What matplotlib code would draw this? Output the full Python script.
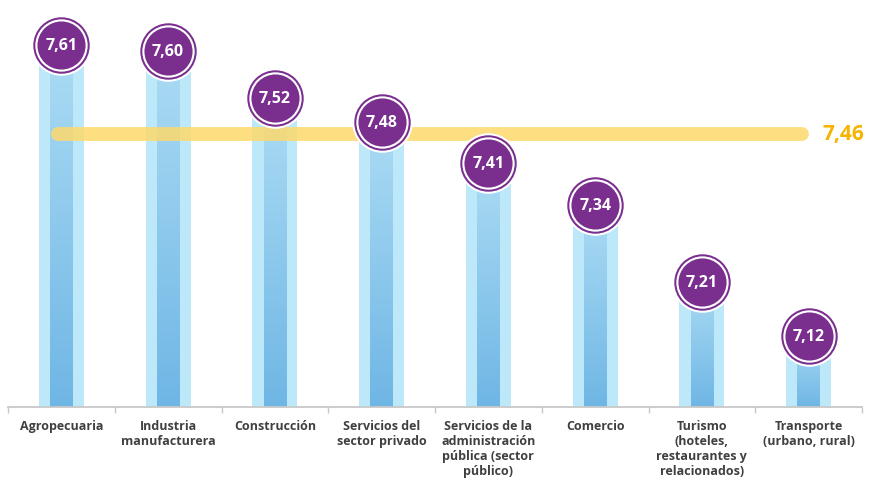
import numpy as np
import matplotlib.pyplot as plt
from matplotlib.colors import LinearSegmentedColormap

sectores = ["Agropecuaria", "Industria\nmanufacturera", "Construcción",
            "Servicios del\nsector privado",
            "Servicios de la\nadministración\npública (sector\npúblico)",
            "Comercio", "Turismo\n(hoteles,\nrestaurantes y\nrelacionados)",
            "Transporte\n(urbano, rural)"]
valores = [7.61, 7.60, 7.52, 7.48, 7.41, 7.34, 7.21, 7.12]
promedio = 7.46
base = 7.0

morado = "#7a2e8e"
azul_claro = "#bde8f9"
amarillo = "#fdd96b"
naranja = "#f6b400"

fig = plt.figure(figsize=(8.71, 4.89), dpi=100)
ax = fig.add_axes([8 / 871, 81 / 489, 854 / 871, 408 / 489])
ax.set_xlim(-0.5, len(valores) - 0.5)
ax.set_ylim(base, base + 408 / 594)

x = np.arange(len(valores))
alturas = np.array(valores) - base

# barra exterior clara
ax.bar(x, alturas, bottom=base, width=0.42, color=azul_claro, zorder=1)

# franja central con degradado
cmap = LinearSegmentedColormap.from_list("franja", ["#6fb6e5", "#acdcf4"])
grad = np.linspace(0, 1, 256).reshape(-1, 1)
for xi, v in zip(x, valores):
    franja = ax.bar(xi, v - base, bottom=base, width=0.21, color="none", zorder=2)[0]
    im = ax.imshow(grad, cmap=cmap, origin="lower", aspect="auto",
                   extent=[xi - 0.105, xi + 0.105, base, v], zorder=2)
    im.set_clip_path(franja)

# línea del promedio
ax.plot([x[0] - 0.03, x[-1] - 0.06], [promedio, promedio], lw=10,
        color=amarillo, alpha=0.85, solid_capstyle="round", zorder=3)
ax.text(x[-1] + 0.13, promedio, "7,46", color=naranja, fontsize=15,
        fontweight="bold", ha="left", va="center", family="Open Sans", zorder=5)

# círculos con el valor
for s, c in [(1900, "white"), (1650, morado), (1420, "white"), (1200, morado)]:
    ax.scatter(x, valores, s=s, color=c, linewidths=0, zorder=4)
for xi, v in zip(x, valores):
    ax.text(xi, v, f"{v:.2f}".replace(".", ","), color="white", fontsize=11.5,
            fontweight="bold", ha="center", va="center", family="Open Sans", zorder=5)

# eje x
for lado in ["top", "right", "left"]:
    ax.spines[lado].set_visible(False)
ax.spines["bottom"].set_color("#c8c8c8")
ax.spines["bottom"].set_linewidth(1.3)
ax.set_yticks([])
ax.set_xticks(x)
ax.set_xticklabels(sectores, fontsize=9, fontweight="bold", color="#404040",
                   family="Open Sans", linespacing=1.2, va="top")
ax.tick_params(axis="x", which="major", length=0, pad=9)
ax.set_xticks(np.arange(-0.5, len(valores)), minor=True)
ax.tick_params(axis="x", which="minor", length=4, color="#c8c8c8", width=1)

fig.savefig("out.png", dpi=100)
